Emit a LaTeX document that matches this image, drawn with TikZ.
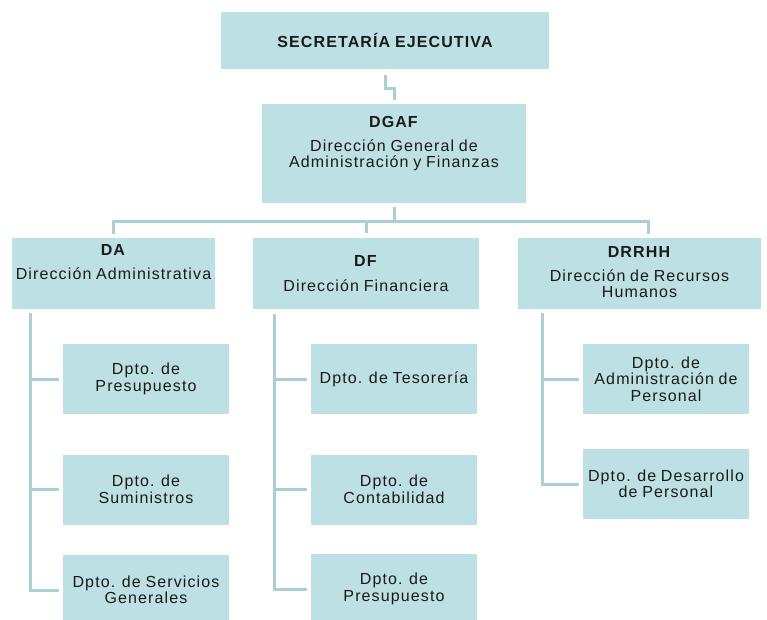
\documentclass[tikz,border=0pt]{standalone}
\usepackage{fontspec}
\setmainfont{Liberation Sans}[LetterSpace=7, WordSpace=0.85]
\definecolor{boxfill}{HTML}{BCE0E3}
\definecolor{linec}{HTML}{ABCFD4}
\definecolor{txt}{HTML}{1A1A1A}
\begin{document}
\begin{tikzpicture}[x=1pt,y=-1pt,
  box/.style={fill=boxfill, draw=none, inner sep=0pt, align=center, text=txt,
              font=\fontsize{16}{16.5}\selectfont},
  topbox/.style={box, minimum height=71pt},
  subbox/.style={box, minimum width=166pt, minimum height=70pt},
  lbl/.style={inner sep=0pt, align=center, text=txt, anchor=north,
              font=\fontsize{16}{16}\selectfont},
  conn/.style={draw=linec, line width=3pt}
]
\useasboundingbox (0,0) rectangle (767,619);

% top levels
\node[box, minimum width=328pt, minimum height=57pt,
      font=\bfseries\fontsize{16}{16}\selectfont] (se) at (385,40.5) {SECRETARÍA EJECUTIVA};
\node[box, minimum width=264pt, minimum height=99pt,
      label={[lbl, yshift=-12.5pt]north:{\textbf{DGAF}\\[8pt]Dirección General de\\Administración y Finanzas}}]
      (dgaf) at (394,153.5) {};

\node[topbox, minimum width=203pt,
      label={[lbl, yshift=-6pt]north:{\textbf{DA}\\[8pt]Dirección Administrativa}}]
      (da) at (113.5,273.5) {};
\node[topbox, minimum width=226pt,
      label={[lbl, yshift=-18pt]north:{\textbf{DF}\\[8.5pt]Dirección Financiera}}]
      (df) at (366,273) {};
\node[topbox, minimum width=243pt,
      label={[lbl, yshift=-8pt]north:{\textbf{DRRHH}\\[8.5pt]Dirección de Recursos\\Humanos}}]
      (dr) at (639.5,273.5) {};

% departments
\node[subbox] (da1) at (146,379)   {Dpto. de\\Presupuesto};
\node[subbox] (da2) at (146,489.5) {Dpto. de\\Suministros};
\node[subbox] (da3) at (146,590)   {Dpto. de Servicios\\Generales};

\node[subbox] (df1) at (394,379)   {Dpto. de Tesorería};
\node[subbox] (df2) at (394,489.5) {Dpto. de\\Contabilidad};
\node[subbox] (df3) at (394,589)   {Dpto. de\\Presupuesto};

\node[subbox] (dr1) at (666,379) {Dpto. de\\Administración de\\Personal};
\node[subbox] (dr2) at (666,484) {Dpto. de Desarrollo\\de Personal};

% connectors
\draw[conn] ([yshift=-6pt]se.south) -- ++(0,13) -| ([yshift=4pt]dgaf.north);

\coordinate (bus) at (0,221);
\coordinate (drtop) at ([xshift=8.5pt,yshift=4pt]dr.north);
\draw[conn] ([yshift=-4pt]dgaf.south) -- (dgaf.south |- bus);
\draw[conn] ([yshift=4pt]da.north) |- (drtop |- bus) -- (drtop);
\draw[conn] ([yshift=4pt]df.north) -- (df.north |- bus);

\coordinate (dav) at ([xshift=19pt,yshift=-4pt]da.south west);
\draw[conn] (dav) |- ([xshift=-4pt]da3.west);
\draw[conn] (dav |- da1.west) -- ([xshift=-4pt]da1.west);
\draw[conn] (dav |- da2.west) -- ([xshift=-4pt]da2.west);

\coordinate (dfv) at ([xshift=22pt,yshift=-5pt]df.south west);
\draw[conn] (dfv) |- ([xshift=-4pt]df3.west);
\draw[conn] (dfv |- df1.west) -- ([xshift=-4pt]df1.west);
\draw[conn] (dfv |- df2.west) -- ([xshift=-4pt]df2.west);

\coordinate (drv) at ([xshift=25pt,yshift=-4pt]dr.south west);
\draw[conn] (drv) |- ([xshift=-4pt]dr2.west);
\draw[conn] (drv |- dr1.west) -- ([xshift=-4pt]dr1.west);
\end{tikzpicture}
\end{document}
